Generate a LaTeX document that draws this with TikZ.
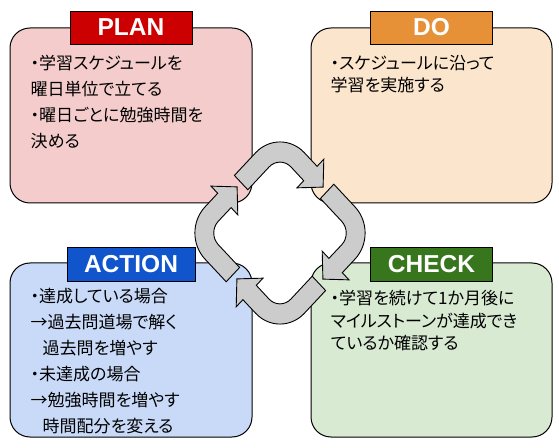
\documentclass[tikz,border=0pt]{standalone}
\usepackage{fontspec}
\usepackage{tikz}
\usetikzlibrary{calc, positioning}
\setmainfont{Liberation Sans}
\newfontfamily\jpfont[RawFeature=+palt]{Noto Sans CJK JP}

\definecolor{planred}{HTML}{CC0000}
\definecolor{planbg}{HTML}{F4CCCC}
\definecolor{doorange}{HTML}{E69138}
\definecolor{dobg}{HTML}{FCE5CD}
\definecolor{actblue}{HTML}{1155CC}
\definecolor{actbg}{HTML}{C9DAF8}
\definecolor{chkgreen}{HTML}{38761D}
\definecolor{chkbg}{HTML}{D9EAD3}

\begin{document}
\begin{tikzpicture}[x=1pt, y=1pt,
    box/.style={draw=black, line width=1pt, rounded corners=20pt, minimum width=242pt, minimum height=175pt, inner sep=0pt},
    tag/.style={draw=black, line width=0.8pt, text=white, minimum width=122pt, minimum height=33pt, inner sep=0pt, font=\bfseries\fontsize{24.5}{28}\selectfont},
    memo/.style={anchor=north west, align=left, inner sep=0pt, font=\jpfont\fontsize{17}{26}\selectfont},
    cycarrow/.style={fill=black!20, draw=black, line width=0.9pt, line join=miter}]

    \useasboundingbox (0,0) rectangle (559,447);

    % =================================================================
    % BOXES
    % =================================================================
    \node[box, fill=planbg] (plan) at (131,331.5) {};
    \node[box, fill=dobg, minimum width=241pt] (do) at (431.5,331.5) {};
    \node[box, fill=actbg, minimum height=174pt] (act) at (131,97) {};
    \node[box, fill=chkbg, minimum width=241pt, minimum height=174pt] (chk) at (431.5,97) {};

    % labels sitting on the top edge
    \node[tag, fill=planred] (plantag) at (plan.north) {PLAN};
    \node[tag, fill=doorange] (dotag) at (do.north) {DO};
    \node[tag, fill=actblue, minimum width=128pt, minimum height=34pt, yshift=-2pt] (acttag) at (act.north) {ACTION};
    \node[tag, fill=chkgreen, minimum height=34pt, yshift=-2pt] (chktag) at (chk.north) {CHECK};

    % texts
    \node[memo] (plantxt) at (30.5,392) {・学習スケジュールを\\曜日単位で立てる\\・曜日ごとに勉強時間を\\決める};
    \node[memo, font=\jpfont\fontsize{17}{22.6}\selectfont] (dotxt) at (330.5,392) {・スケジュールに沿って\\学習を実施する};
    \node[memo] (acttxt) at (30.5,158.6) {・達成している場合\\→過去問道場で解く\\\hspace*{12pt}過去問を増やす\\・未達成の場合\\→勉強時間を増やす\\\hspace*{12pt}時間配分を変える};
    \node[memo, font=\jpfont\fontsize{17}{22.6}\selectfont] (chktxt) at (330.5,157) {・学習を続けて1か月後に\\マイルストーンが達成でき\\ているか確認する};

    % =================================================================
    % CYCLE ARROWS
    % =================================================================
    \coordinate (ctr) at (280,214);
    \foreach \ang in {0,-90,-180,-270}{
        \begin{scope}[shift={(ctr)}, yscale=1.07, rotate=\ang]
            \draw[cycarrow] (-45.6,53.8) -- (-24.4,75.0)
                arc[start angle=135, end angle=45, radius=34.5]
                -- (37.1,62.3) -- (43.8,69.0) -- (43.1,42.9) -- (17.0,42.2) -- (23.7,48.9) -- (11.0,61.7)
                arc[start angle=45, end angle=135, radius=15.5]
                -- (-32.2,40.4) -- cycle;
        \end{scope}
    }

\end{tikzpicture}
\end{document}
